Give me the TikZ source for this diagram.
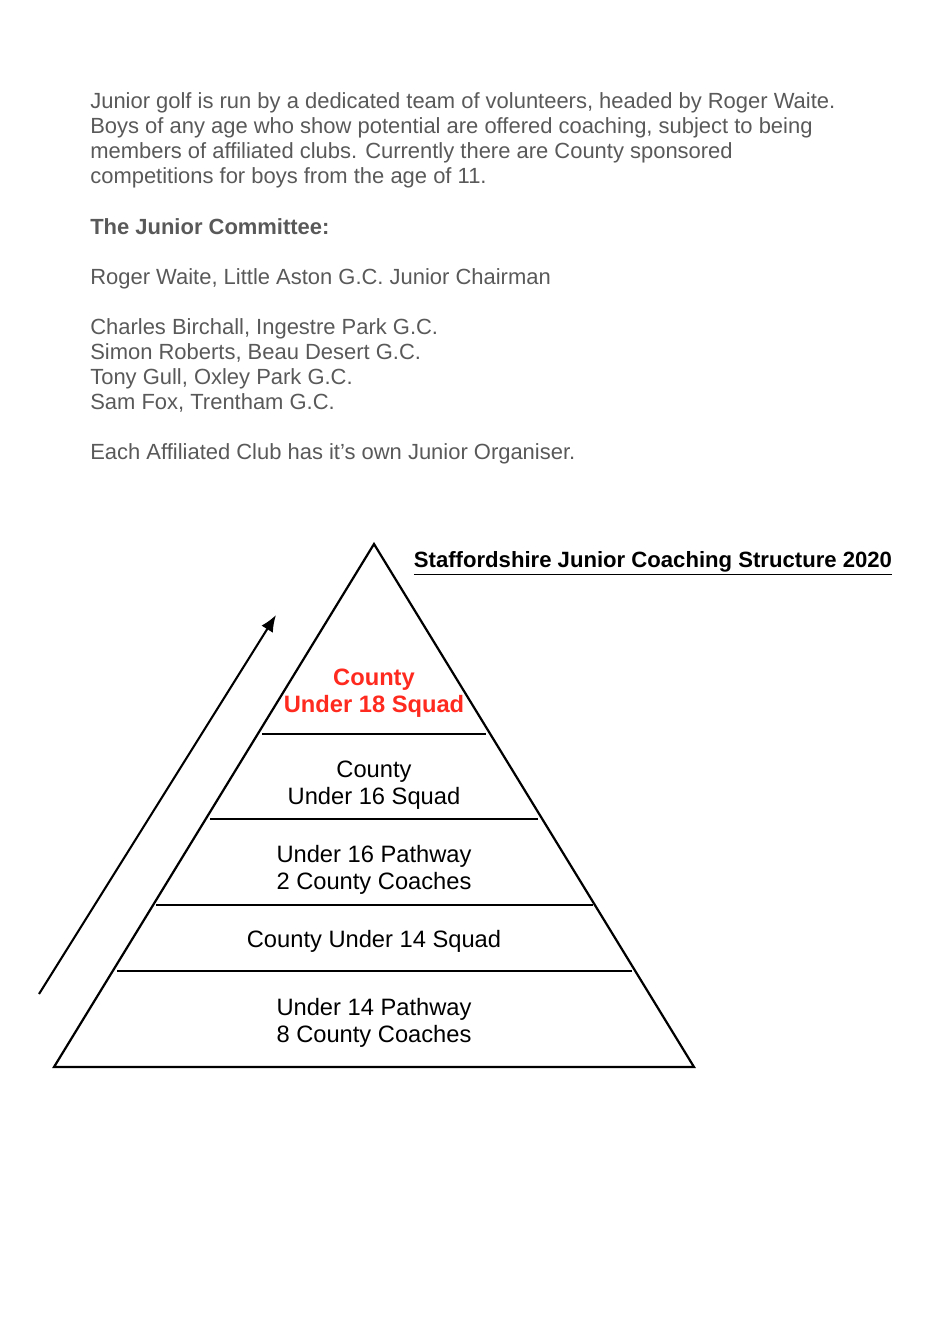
\documentclass[tikz,border=0pt]{standalone}
\usepackage{fontspec}
\setmainfont{Liberation Sans}
\usetikzlibrary{arrows.meta}
\definecolor{textgray}{HTML}{595959}
\definecolor{squadred}{HTML}{FF2A1F}
\tikzset{
  para/.style={anchor=base west, inner sep=0pt, text=textgray, font=\fontsize{13.9}{15.9}\selectfont},
  level/.style={align=center, inner sep=0pt, font=\fontsize{15}{17.3}\selectfont},
  tier/.style={line width=1.4pt},
}
\begin{document}
\begin{tikzpicture}[x=0.633pt,y=-0.633pt]
        \useasboundingbox (0,0) rectangle (940,1327);
        % intro text
        \node [para] (p1) at (90,108.5) {Junior golf is run by a dedicated team of volunteers, headed by Roger Waite.};
        \node [para] (p2) at (90,133.6) {Boys of any age who show potential are offered coaching, subject to being};
        \node [para] (p3) at (90,158.7) {members of affiliated clubs. Currently there are County sponsored};
        \node [para] (p4) at (90,183.8) {competitions for boys from the age of 11.};
        \node [para, font=\fontsize{13.9}{15.9}\selectfont\bfseries] (com) at (90,234) {The Junior Committee:};
        \node [para] (chair) at (90,284.2) {Roger Waite, Little Aston G.C. Junior Chairman};
        \node [para] (m1) at (90,334.4) {Charles Birchall, Ingestre Park G.C.};
        \node [para] (m2) at (90,359.5) {Simon Roberts, Beau Desert G.C.};
        \node [para] (m3) at (90,384.6) {Tony Gull, Oxley Park G.C.};
        \node [para] (m4) at (90,409.7) {Sam Fox, Trentham G.C.};
        \node [para] (club) at (90,459.9) {Each Affiliated Club has it's own Junior Organiser.};
        % pyramid
        \coordinate (apex) at (374,544);
        \coordinate (bl) at (54,1067);
        \coordinate (br) at (694,1067);
        \draw [tier, line join=miter] (apex) -- (bl) -- (br) -- cycle;
        \draw [tier] (262,734) -- (486,734);
        \draw [tier] (210,819) -- (538,819);
        \draw [tier] (156,905) -- (593,905);
        \draw [tier] (117,971) -- (632,971);
        % levels
        \node [level, text=squadred, font=\fontsize{15}{17.3}\selectfont\bfseries] (u18) at (374,693) {County\\Under 18 Squad};
        \node [level] (u16) at (374,785) {County\\Under 16 Squad};
        \node [level] (u16p) at (374,870) {Under 16 Pathway\\2 County Coaches};
        \node [level] (u14) at (374,941) {County Under 14 Squad};
        \node [level] (u14p) at (374,1023) {Under 14 Pathway\\8 County Coaches};
        % progression arrow
        \coordinate (up0) at (39,994);
        \coordinate (up1) at (276,615);
        \draw [line width=1.3pt, -{Latex[length=10.5pt,width=8.5pt]}] (up0) -- (up1);
        \node [font=\fontsize{14}{16}\selectfont\bfseries, inner sep=0pt] (title) at (653,563) {\underline{Staffordshire Junior Coaching Structure 2020}};
\end{tikzpicture}
\end{document}
